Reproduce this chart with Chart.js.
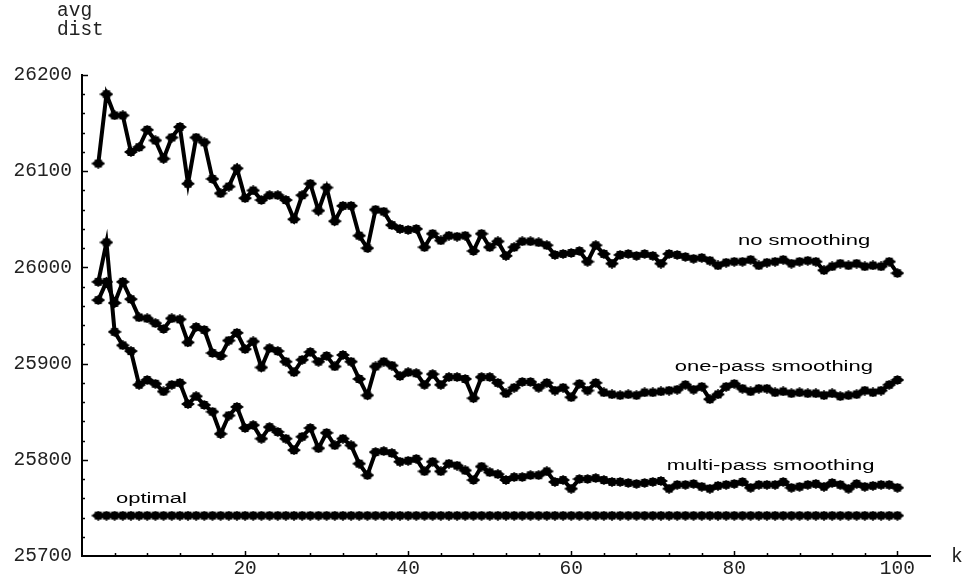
<!DOCTYPE html>
<html>
<head>
<meta charset="utf-8">
<script src="https://cdn.jsdelivr.net/npm/chart.js@4.4.0/dist/chart.umd.min.js"></script>
<style>
  html, body { margin: 0; padding: 0; background: #fff; }
  #wrap { width: 967px; height: 582px; }
</style>
</head>
<body>
<div id="wrap"><canvas id="grafico" width="967" height="582"></canvas></div>
<script>
// k = 2 .. 100
const kValues = Array.from({ length: 99 }, (_, i) => i + 2);

const noSmoothing = [
  26108, 26180, 26158, 26158, 26120, 26125, 26143, 26132, 26113, 26135,
  26146, 26087, 26135, 26130, 26092, 26077, 26084, 26103, 26072, 26080,
  26070, 26075, 26075, 26070, 26050, 26075, 26087, 26059, 26083, 26048,
  26064, 26064, 26033, 26020, 26060, 26058, 26044, 26040, 26039, 26040,
  26021, 26035, 26028, 26033, 26032, 26033, 26017, 26035, 26021, 26027,
  26012, 26021, 26027, 26027, 26026, 26023, 26013, 26014, 26015, 26017,
  26006, 26023, 26014, 26004, 26013, 26014, 26012, 26014, 26012, 26004,
  26014, 26013, 26011, 26009, 26010, 26007, 26002, 26005, 26006, 26006,
  26008, 26002, 26005, 26006, 26008, 26004, 26006, 26007, 26006, 25997,
  26001, 26004, 26002, 26004, 26001, 26002, 26001, 26006, 25994
];

const onePass = [
  25966, 25985, 25963, 25985, 25967, 25948, 25947, 25942, 25936, 25947,
  25946, 25922, 25938, 25935, 25911, 25908, 25924, 25932, 25915, 25923,
  25896, 25916, 25913, 25902, 25891, 25904, 25912, 25902, 25908, 25897,
  25909, 25902, 25884, 25867, 25897, 25902, 25898, 25887, 25891, 25890,
  25878, 25889, 25878, 25886, 25886, 25884, 25864, 25886, 25886, 25880,
  25869, 25875, 25881, 25881, 25875, 25880, 25872, 25875, 25865, 25879,
  25872, 25880, 25870, 25868, 25867, 25868, 25867, 25870, 25870, 25871,
  25872, 25873, 25878, 25873, 25876, 25863, 25868, 25876, 25879, 25874,
  25871, 25874, 25874, 25870, 25871, 25869, 25870, 25869, 25869, 25867,
  25869, 25866, 25867, 25868, 25872, 25870, 25872, 25878, 25883
];

const multiPass = [
  25985, 26026, 25933, 25919, 25913, 25878, 25883, 25879, 25871, 25878,
  25880, 25858, 25866, 25857, 25850, 25827, 25846, 25855, 25833, 25836,
  25822, 25834, 25829, 25822, 25810, 25824, 25833, 25812, 25828, 25815,
  25822, 25815, 25796, 25784, 25808, 25809, 25807, 25798, 25799, 25801,
  25788, 25798, 25788, 25796, 25794, 25789, 25779, 25793, 25787, 25785,
  25779, 25782, 25782, 25784, 25784, 25788, 25777, 25779, 25770, 25780,
  25780, 25781, 25779, 25777, 25777, 25776, 25775, 25776, 25777, 25778,
  25770, 25774, 25774, 25775, 25772, 25770, 25773, 25774, 25775, 25777,
  25771, 25774, 25774, 25774, 25777, 25771, 25772, 25774, 25775, 25772,
  25776, 25774, 25770, 25775, 25772, 25773, 25774, 25774, 25771
];

const optimal = [
  25742, 25742, 25742, 25742, 25742, 25742, 25742, 25742, 25742, 25742,
  25742, 25742, 25742, 25742, 25742, 25742, 25742, 25742, 25742, 25742,
  25742, 25742, 25742, 25742, 25742, 25742, 25742, 25742, 25742, 25742,
  25742, 25742, 25742, 25742, 25742, 25742, 25742, 25742, 25742, 25742,
  25742, 25742, 25742, 25742, 25742, 25742, 25742, 25742, 25742, 25742,
  25742, 25742, 25742, 25742, 25742, 25742, 25742, 25742, 25742, 25742,
  25742, 25742, 25742, 25742, 25742, 25742, 25742, 25742, 25742, 25742,
  25742, 25742, 25742, 25742, 25742, 25742, 25742, 25742, 25742, 25742,
  25742, 25742, 25742, 25742, 25742, 25742, 25742, 25742, 25742, 25742,
  25742, 25742, 25742, 25742, 25742, 25742, 25742, 25742, 25742
];

const xTicks = [20, 40, 60, 80, 100];
const yTicks = [25700, 25800, 25900, 26000, 26100, 26200];

const seriesLabels = ['no smoothing', 'one-pass smoothing', 'multi-pass smoothing', 'optimal'];
const labelK = [80.45, 72.7, 71.7, 4.17];
const labelV = [26023, 25892, 25789, 25755];

// flattened diamond marker
function makeDiamond(w, h) {
  const c = document.createElement('canvas');
  c.width = w; c.height = h;
  const g = c.getContext('2d');
  g.fillStyle = '#000';
  g.beginPath();
  g.moveTo(0, h / 2);
  g.lineTo(w / 2, 0);
  g.lineTo(w, h / 2);
  g.lineTo(w / 2, h);
  g.closePath();
  g.fill();
  g.fillRect(w / 2 - 3.5, 1, 7, h - 2);
  return c;
}
const diamond = makeDiamond(14, 10);

function serie(values) {
  return {
    data: kValues.map((k, i) => ({ x: k, y: values[i] })),
    borderColor: '#000',
    backgroundColor: '#000',
    borderWidth: 4,
    tension: 0,
    pointStyle: diamond,
    pointRadius: 5,
    pointHoverRadius: 5
  };
}

const monoFont = '"Liberation Mono", "Courier New", monospace';

const extras = {
  id: 'extras',
  afterDraw(chart) {
    const { ctx, scales: { x, y } } = chart;
    ctx.save();
    ctx.strokeStyle = '#000';
    ctx.lineWidth = 1.5;
    // tick marks pointing inward
    for (let v = 4; v <= 100; v += 4) {
      const px = Math.round(x.getPixelForValue(v)) + 0.5;
      const len = v % 20 === 0 ? 5 : 3;
      ctx.beginPath();
      ctx.moveTo(px, y.bottom);
      ctx.lineTo(px, y.bottom - len);
      ctx.stroke();
    }
    for (let v = 25720; v <= 26200; v += 20) {
      const py = Math.round(y.getPixelForValue(v)) + 0.5;
      const len = v % 100 === 0 ? 6 : 3;
      ctx.beginPath();
      ctx.moveTo(x.left, py);
      ctx.lineTo(x.left + len, py);
      ctx.stroke();
    }
    // axis names
    ctx.fillStyle = '#222';
    ctx.font = '19.5px ' + monoFont;
    ctx.textBaseline = 'alphabetic';
    ctx.textAlign = 'left';
    ctx.fillText('avg', 57, 16);
    ctx.fillText('dist', 57, 35);
    ctx.fillText('k', 951, 562);
    // curve labels (stretched sans)
    ctx.fillStyle = '#000';
    ctx.font = '15.5px "Liberation Sans", Arial, sans-serif';
    seriesLabels.forEach((txt, i) => {
      ctx.save();
      ctx.translate(x.getPixelForValue(labelK[i]), y.getPixelForValue(labelV[i]));
      ctx.scale(1.42, 1);
      ctx.fillText(txt, 0, 0);
      ctx.restore();
    });
    ctx.restore();
  }
};

new Chart(document.getElementById('grafico'), {
  type: 'line',
  data: {
    datasets: [serie(noSmoothing), serie(onePass), serie(multiPass), serie(optimal)]
  },
  options: {
    responsive: false,
    animation: false,
    devicePixelRatio: 1,
    layout: { padding: { top: 75, right: 37, left: 0, bottom: 0 } },
    plugins: { legend: { display: false }, tooltip: { enabled: false } },
    scales: {
      x: {
        type: 'linear',
        min: 0,
        max: 104,
        afterBuildTicks: s => { s.ticks = xTicks.map(v => ({ value: v })); },
        afterFit: s => { s.height = 26; },
        grid: { display: false, drawTicks: false },
        border: { display: true, color: '#000', width: 2 },
        ticks: { font: { family: monoFont, size: 19.5 }, color: '#222', padding: 1, maxRotation: 0, autoSkip: false, callback: v => String(v) }
      },
      y: {
        min: 25700,
        max: 26200,
        afterBuildTicks: s => { s.ticks = yTicks.map(v => ({ value: v })); },
        afterFit: s => { s.width = 82; },
        grid: { display: false, drawTicks: false },
        border: { display: true, color: '#000', width: 2 },
        ticks: { font: { family: monoFont, size: 19.5 }, color: '#222', padding: 10, autoSkip: false, callback: v => String(v) }
      }
    }
  },
  plugins: [extras]
});
</script>
</body>
</html>
